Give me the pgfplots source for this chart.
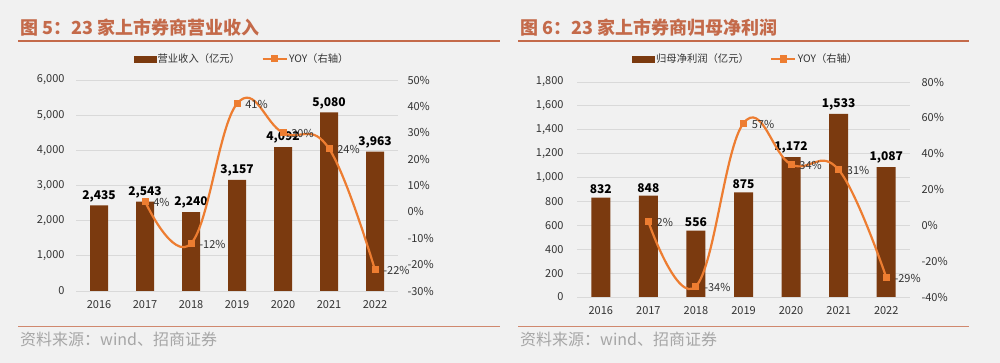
\documentclass[border=0pt]{standalone}
\usepackage{fontspec}
\setmainfont{Noto Sans CJK SC}
\usepackage{pgfplots}
\pgfplotsset{compat=1.18}
\definecolor{bg}{HTML}{F1F1F1}
\definecolor{barc}{HTML}{7B3A0F}
\definecolor{linec}{HTML}{ED7D31}
\definecolor{titc}{HTML}{C46A4A}
\definecolor{gridc}{HTML}{D9D9D9}
\definecolor{tickc}{HTML}{333333}
\definecolor{srcc}{HTML}{A6A6A6}

\tikzset{
  barlabel/.style={font=\bfseries\fontsize{12}{12}\selectfont, text=black},
  yoylabel/.style={anchor=west, xshift=5pt, yshift=-1pt, font=\fontsize{11}{12}\selectfont, text=tickc},
}
\pgfplotsset{
  base/.style={
    scale only axis, xmin=-0.5, xmax=6.5,
    axis line style={draw=none},
    major tick length=0pt, tick style={draw=none},
    ticklabel style={font=\fontsize{11}{12}\selectfont, text=tickc},
    /pgf/number format/assume math mode=true,
    /pgf/number format/1000 sep={,},
  },
  legendbar/.style={legend image code/.code={\fill[barc] (0pt,-3pt) rectangle (22pt,3pt);}},
  legendline/.style={legend image code/.code={\draw[linec, line width=2pt] (0pt,0pt)--(24pt,0pt); \fill[linec] (9.5pt,-2.5pt) rectangle (14.5pt,2.5pt);}},
  leg/.style={legend style={at={#1}, anchor=center, draw=none, fill=none,
    legend columns=2, font=\fontsize{10.3}{12}\selectfont, text=tickc,
    nodes={inner xsep=1.5pt},
    /tikz/every even column/.append style={column sep=20pt}}},
}

\begin{document}
\begin{tikzpicture}
\path[use as bounding box, fill=bg] (0,0) rectangle (1000pt,363pt);

% ---------- titles and rules ----------
\node[anchor=west, text=titc, font=\bfseries\fontsize{18}{18}\selectfont, inner sep=0pt] at (20pt,335pt) {图 5：23 家上市券商营业收入};
\node[anchor=west, text=titc, font=\bfseries\fontsize{18}{18}\selectfont, inner sep=0pt] at (520pt,335pt) {图 6：23 家上市券商归母净利润};
\draw[titc, line width=1.6pt] (18pt,322pt) -- (500pt,322pt);
\draw[titc, line width=1.6pt] (518pt,322pt) -- (969pt,322pt);
\draw[titc!80, line width=1pt] (18pt,36pt) -- (500pt,36pt);
\draw[titc!80, line width=1pt] (518pt,36pt) -- (969pt,36pt);
\node[anchor=west, text=srcc, font=\fontsize{16}{16}\selectfont, inner sep=0pt] at (20pt,24pt) {资料来源：wind、招商证券};
\node[anchor=west, text=srcc, font=\fontsize{16}{16}\selectfont, inner sep=0pt] at (520pt,24pt) {资料来源：wind、招商证券};

% ---------- left chart ----------
\begin{axis}[base, at={(76pt,72pt)}, anchor=south west, width=322pt, height=211pt,
  ymin=0, ymax=6000, ytick={0,1000,...,6000},
  ymajorgrids, grid style={gridc, line width=0.8pt},
  xtick={0,...,6}, xticklabels={2016,2017,2018,2019,2020,2021,2022},
  yticklabel style={xshift=-8pt}, xticklabel style={yshift=-6pt}]
\addplot[ybar, bar width=18pt, fill=barc, draw=none,
  nodes near coords, nodes near coords style={barlabel}]
  coordinates {(0,2435) (1,2543) (2,2240) (3,3157) (4,4092) (5,5080) (6,3963)};
\end{axis}
\begin{axis}[base, at={(76pt,72pt)}, anchor=south west, width=322pt, height=211pt,
  ymin=-30, ymax=50, ytick={-30,-20,...,50},
  axis y line*=right, axis x line=none,
  yticklabel={\pgfmathprintnumber{\tick}\%},
  yticklabel style={xshift=6pt},
  leg={(rel axis cs:0.515,1.1)}]
\addlegendimage{legendbar}
\addlegendentry{营业收入（亿元）}
\addplot[linec, line width=2.2pt, smooth, tension=0.7, legendline,
  mark=square*, mark size=3pt, mark options={fill=linec, draw=linec, line width=0pt},
  nodes near coords={\pgfmathprintnumber{\pgfplotspointmeta}\%},
  nodes near coords style={yoylabel}]
  coordinates {(1,4) (2,-12) (3,41) (4,30) (5,24) (6,-22)};
\addlegendentry{YOY（右轴）}
\end{axis}

% ---------- right chart ----------
\begin{axis}[base, at={(577pt,66pt)}, anchor=south west, width=333pt, height=215pt,
  ymin=0, ymax=1800, ytick={0,200,...,1800},
  ymajorgrids, grid style={gridc, line width=0.8pt},
  xtick={0,...,6}, xticklabels={2016,2017,2018,2019,2020,2021,2022},
  yticklabel style={xshift=-10pt}, xticklabel style={yshift=-6pt}]
\addplot[ybar, bar width=19pt, fill=barc, draw=none,
  nodes near coords, nodes near coords style={barlabel}]
  coordinates {(0,832) (1,848) (2,556) (3,875) (4,1172) (5,1533) (6,1087)};
\end{axis}
\begin{axis}[base, at={(577pt,66pt)}, anchor=south west, width=333pt, height=215pt,
  ymin=-40, ymax=80, ytick={-40,-20,...,80},
  axis y line*=right, axis x line=none,
  yticklabel={\pgfmathprintnumber{\tick}\%},
  yticklabel style={xshift=8pt},
  leg={(rel axis cs:0.506,1.107)}]
\addlegendimage{legendbar}
\addlegendentry{归母净利润（亿元）}
\addplot[linec, line width=2.2pt, smooth, tension=0.7, legendline,
  mark=square*, mark size=3pt, mark options={fill=linec, draw=linec, line width=0pt},
  nodes near coords={\pgfmathprintnumber{\pgfplotspointmeta}\%},
  nodes near coords style={yoylabel}]
  coordinates {(1,2) (2,-34) (3,57) (4,34) (5,31) (6,-29)};
\addlegendentry{YOY（右轴）}
\end{axis}
\end{tikzpicture}
\end{document}
